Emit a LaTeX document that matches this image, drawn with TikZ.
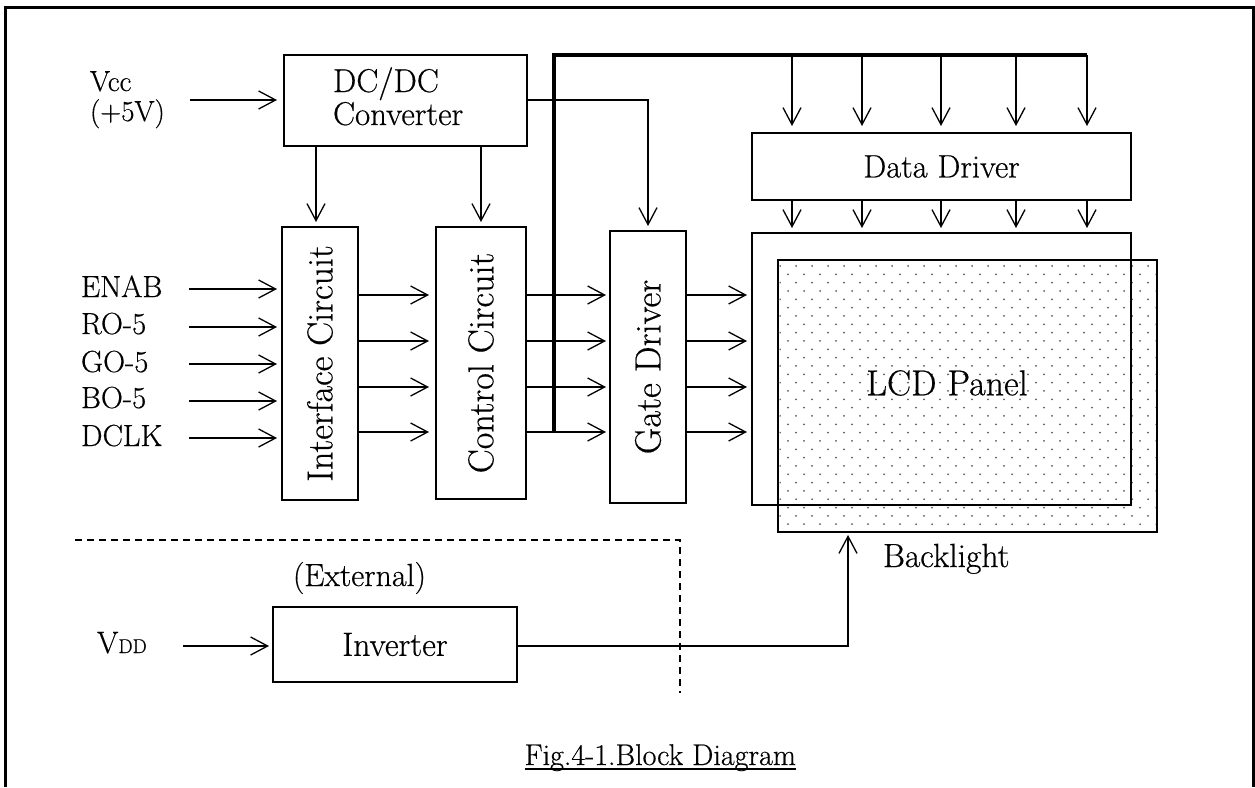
\documentclass[tikz,border=0pt]{standalone}
\usepackage{fontspec}
\setmainfont{Latin Modern Roman}[RawFeature={embolden=0.5}]
\usepackage{graphicx}
\usetikzlibrary{arrows.meta}
\newcommand{\myfs}[1]{\fontsize{#1}{#1}\selectfont}
\begin{document}
\begin{tikzpicture}[x=1pt,y=-1pt,
  blk/.style={draw, line width=2.8pt, inner sep=0pt, outer sep=0pt},
  txt/.style={inner sep=0pt, outer sep=0pt, font=\myfs{30.5}},
  wire/.style={line width=1.3pt},
  arr/.style={line width=1.3pt, -{Straight Barb[length=17pt,width=18pt]}, shorten >=5pt},
  bus/.style={line width=4pt},
  extline/.style={line width=1.4pt, dash pattern=on 7pt off 5pt}
]
\useasboundingbox (0,0) rectangle (1255,787);
% frame
\coordinate (f1) at (5,787); \coordinate (f2) at (5,7);
\coordinate (f3) at (1253,7); \coordinate (f4) at (1253,787);
\draw[line width=3pt] (f1) -- (f2) -- (f3) -- (f4);

% backlight dots
\begin{scope}
\clip (779.5,261.5) rectangle (1155.5,530.5);
\foreach \i in {0,...,32} {
  \foreach \j in {0,...,24} {
    \fill[black!65] ({780+8*mod(\i,2)+16*\j},{266+8.33*\i}) circle[radius=1pt];
  }
}
\end{scope}

% blocks
\node[blk, minimum width=243pt, minimum height=91pt] (dcdc) at (405.5,100.5) {};
\node[blk, minimum width=76pt, minimum height=273pt] (intf) at (320,363.5)
  {\rotatebox{90}{\myfs{36}Interface Circuit}};
\node[blk, minimum width=90pt, minimum height=272pt] (ctrl) at (481,363)
  {\rotatebox{90}{\myfs{36}Control Circuit}};
\node[blk, minimum width=76pt, minimum height=272pt] (gate) at (648,367)
  {\rotatebox{90}{\myfs{36.5}Gate Driver}};
\node[blk, minimum width=379pt, minimum height=67pt, font=\myfs{32.5}] (dd) at (941.5,166.5) {Data Driver};
\node[blk, minimum width=379pt, minimum height=272pt] (bl) at (967.5,396) {};
\node[blk, minimum width=379pt, minimum height=272pt] (lcd) at (941.5,369) {};
\node[blk, minimum width=244pt, minimum height=75pt, font=\myfs{33.5}] (inv) at (395,644.5) {Inverter};

% texts
\node[txt, anchor=base west, font=\myfs{33}] (dc1) at (333,92) {DC/DC};
\node[txt, anchor=base west, font=\myfs{33}] (dc2) at (333,125) {Converter};
\node[txt, anchor=base west, font=\myfs{29}] (vcc) at (90,91) {Vcc};
\node[txt, anchor=base west, font=\myfs{29}] (vcc5) at (90,121) {(+5V)};
\node[txt, anchor=base west] (l1) at (81,297) {ENAB};
\node[txt, anchor=base west] (l2) at (81,334) {RO-5};
\node[txt, anchor=base west] (l3) at (81,372) {GO-5};
\node[txt, anchor=base west] (l4) at (81,408) {BO-5};
\node[txt, anchor=base west] (l5) at (81,446) {DCLK};
\node[txt, font=\myfs{36}] (lcdt) at (947,383) {LCD Panel};
\node[txt, anchor=base west, font=\myfs{33.5}] (blt) at (883,567) {Backlight};
\node[txt, anchor=base west, font=\myfs{32}] (ext) at (293,586) {(External)};
\node[txt, anchor=base west, font=\myfs{31}] (vdd) at (97,653) {V{\myfs{20}DD}};
\node[txt, anchor=base east, font=\myfs{30}] (cap) at (796,765) {Fig.4-1.Block Diagram};
\draw[line width=1.4pt] ([yshift=-4pt]cap.base west) -- ([yshift=-4pt]cap.base east);

% Vcc input
\coordinate (vccs) at (190,100);
\draw[arr, shorten >=7pt] (vccs) -- (vccs -| dcdc.west);

% DC/DC outputs
\coordinate (d1) at (316,146);
\coordinate (d2) at (481,146);
\coordinate (d3) at (648,100);
\draw[arr] (d1) -- (d1 |- intf.north);
\draw[arr] (d2) -- (d2 |- ctrl.north);
\draw[arr] (dcdc.east |- d3) -- (d3) -- (d3 |- gate.north);

% input signals
\foreach \y [count=\k] in {289,327,364,401,438} {
  \coordinate (in\k) at (189,\y);
  \draw[arr] (in\k) -- (in\k -| intf.west);
}

% internal rows
\foreach \y [count=\k] in {295,341,387,432} {
  \coordinate (r\k) at (0,\y);
  \draw[arr, shorten >=7pt] (intf.east |- r\k) -- (ctrl.west |- r\k);
  \draw[arr, shorten >=4pt] (ctrl.east |- r\k) -- (gate.west |- r\k);
  \draw[arr] (gate.east |- r\k) -- (lcd.west |- r\k);
}

% data bus
\coordinate (busb) at (554,432);
\coordinate (bust) at (554,55);
\coordinate (buse) at (1087,55);
\draw[bus] (busb) -- (bust) -- (buse);
\foreach \x [count=\k] in {792,862,941,1016,1087} {
  \coordinate (t\k) at (\x,55);
  \draw[arr, shorten >=7pt] (t\k) -- (t\k |- dd.north);
  \draw[arr] (t\k |- dd.south) -- (t\k |- lcd.north);
}

% inverter
\coordinate (vdds) at (183,646);
\draw[arr, shorten >=4pt] (vdds) -- (vdds -| inv.west);
\coordinate (bk) at (848,646);
\draw[arr, shorten >=3pt] (inv.east |- bk) -- (bk) -- (bk |- bl.south);

% external boundary
\coordinate (e1) at (75,540); \coordinate (e2) at (680,540); \coordinate (e3) at (680,693);
\draw[extline] (e1) -- (e2) -- (e3);
\end{tikzpicture}
\end{document}
